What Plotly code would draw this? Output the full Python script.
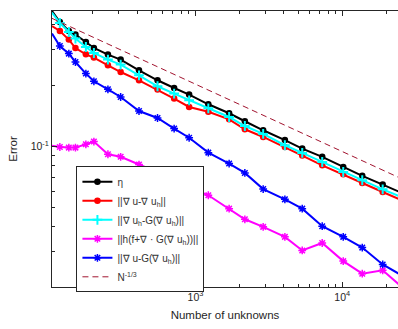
import plotly.graph_objects as go

# Number of unknowns (shared by all series)
N = [105.2, 119, 137, 152, 179, 203, 253, 309, 412, 551, 715, 905, 1223, 1695,
     2169, 2892, 4066, 5337, 7304, 10158, 13690, 18862, 25540]

eta = [0.4676, 0.4124, 0.3722, 0.3573, 0.3284, 0.3066, 0.2844, 0.2687, 0.2378,
       0.2122, 0.1943, 0.1803, 0.1614, 0.1457, 0.1330, 0.1200, 0.1073, 0.0974,
       0.0887, 0.0790, 0.0714, 0.0646, 0.0587]
err_true = [0.3940, 0.3722, 0.3375, 0.3066, 0.2853, 0.2748, 0.2518, 0.2332, 0.2122,
            0.1908, 0.1722, 0.1565, 0.1482, 0.1360, 0.1214, 0.1112, 0.0992, 0.0899,
            0.0805, 0.0727, 0.0658, 0.0594, 0.0540]
err_rec = [0.4591, 0.4077, 0.3680, 0.3414, 0.3101, 0.2896, 0.2687, 0.2538, 0.2246,
           0.1982, 0.1823, 0.1689, 0.1542, 0.1396, 0.1260, 0.1151, 0.1012, 0.0927,
           0.0836, 0.0746, 0.0679, 0.0612, 0.0559]
err_res = [0.1006, 0.0992, 0.0985, 0.0985, 0.1023, 0.1055, 0.0913, 0.0887, 0.0812,
           0.0743, 0.0679, 0.0627, 0.0572, 0.0491, 0.0435, 0.0399, 0.0356, 0.0305,
           0.0332, 0.0270, 0.0234, 0.0243, 0.0201]
err_grad = [0.3613, 0.3136, 0.2876, 0.2614, 0.2291, 0.2098, 0.1915, 0.1754, 0.1495,
            0.1380, 0.1224, 0.1102, 0.0930, 0.0821, 0.0738, 0.0614, 0.0546, 0.0491,
            0.0402, 0.0356, 0.0315, 0.0260, 0.0229]
ref_N = [105.2, 25540]
ref_val = [0.430, 0.0689]

names = ["η",
         "||∇ u-∇ u<sub>h</sub>||",
         "||∇ u<sub>h</sub>-G(∇ u<sub>h</sub>)||",
         "||h(f+∇ · G(∇ u<sub>h</sub>))||",
         "||∇ u-G(∇ u<sub>h</sub>)||",
         "N<sup>-1/3</sup>"]

x_major = [1e3, 1e4]
x_major_text = ["10<sup>3</sup>", "10<sup>4</sup>"]
x_minor = [200, 300, 400, 500, 600, 700, 800, 900,
           2000, 3000, 4000, 5000, 6000, 7000, 8000, 9000, 20000]
y_major = [0.1]
y_major_text = ["10<sup>-1</sup>"]
y_minor = [0.02, 0.03, 0.04, 0.05, 0.06, 0.07, 0.08, 0.09, 0.2, 0.3, 0.4]

FONT = "Liberation Sans, Arial, sans-serif"
AX = "#262626"

fig = go.Figure()
series = [
    (eta, "#000000", dict(symbol="circle", size=6.5)),
    (err_true, "#FF0000", dict(symbol="circle", size=6.5)),
    (err_rec, "#00FFFF", dict(symbol="cross-thin-open", size=7, line=dict(width=2, color="#00FFFF"))),
    (err_res, "#FF00FF", dict(symbol="asterisk-open", size=6.5, line=dict(width=1.5, color="#FF00FF"))),
    (err_grad, "#0000FF", dict(symbol="asterisk-open", size=6.5, line=dict(width=1.5, color="#0000FF"))),
]
for (vals, col, mk), nm in zip(series, names):
    mk = dict(mk)
    mk["color"] = col
    fig.add_trace(go.Scatter(x=N, y=vals, mode="lines+markers", name=nm,
                             line=dict(color=col, width=2), marker=mk,
                             cliponaxis=False))
fig.add_trace(go.Scatter(x=ref_N, y=ref_val, mode="lines", name=names[5],
                         line=dict(color="#A2142F", width=1, dash="6px,4px")))

fig.update_layout(
    width=398, height=329,
    margin=dict(l=52.3, r=0, t=10.7, b=42.3),
    paper_bgcolor="white", plot_bgcolor="white",
    font=dict(family=FONT, size=10, color=AX),
    showlegend=True,
    legend=dict(x=0.0706, y=0.4373, xanchor="left", yanchor="top",
                bgcolor="white", bordercolor=AX, borderwidth=1,
                font=dict(family=FONT, size=10, color="#333333"),
                tracegroupgap=0, itemwidth=30),
)
fig.update_xaxes(
    type="log", range=[2.02202, 4.3800],
    showline=True, linecolor=AX, linewidth=1, mirror="ticks",
    ticks="inside", ticklen=5, tickcolor=AX,
    tickmode="array", tickvals=x_major, ticktext=x_major_text,
    minor=dict(ticks="inside", ticklen=3, tickcolor=AX, tickmode="array", tickvals=x_minor),
    showgrid=False, zeroline=False,
    tickfont=dict(size=10.5, color=AX),
    title=dict(text="Number of unknowns", font=dict(size=11.5, color=AX), standoff=9),
)
fig.update_yaxes(
    type="log", range=[-1.6968, -0.3302],
    showline=True, linecolor=AX, linewidth=1, mirror=False,
    ticks="inside", ticklen=5, tickcolor=AX,
    tickmode="array", tickvals=y_major, ticktext=y_major_text,
    minor=dict(ticks="inside", ticklen=3, tickcolor=AX, tickmode="array", tickvals=y_minor),
    showgrid=False, zeroline=False,
    tickfont=dict(size=10.5, color=AX),
    title=dict(text="Error", font=dict(size=11.5, color=AX), standoff=10),
)
fig.write_html("out.html")
